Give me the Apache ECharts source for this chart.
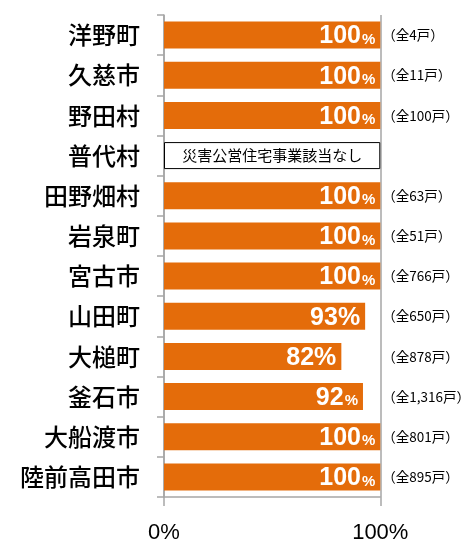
<!DOCTYPE html>
<html>
<head>
  <meta charset="utf-8">
  <title>災害公営住宅 整備率</title>
  <script src="https://cdn.jsdelivr.net/npm/echarts@6/dist/echarts.min.js"></script>
  <style>
    html, body { margin: 0; padding: 0; background: #fff; }
  </style>
</head>
<body>
  <div id="chart" style="width: 473px; height: 544px;"></div>
  <script>
    // 市町村
    var towns = ['洋野町', '久慈市', '野田村', '普代村', '田野畑村', '岩泉町', '宮古市',
                 '山田町', '大槌町', '釜石市', '大船渡市', '陸前高田市'];
    // 整備率（%）、普代村は該当なし
    var rates = [100, 100, 100, null, 100, 100, 100, 93, 82, 92, 100, 100];
    // 計画戸数
    var units = ['4', '11', '100', '', '63', '51', '766', '650', '878', '1,316', '801', '895'];
    var noneText = '災害公営住宅事業該当なし';
    var xTicks = [0, 100];

    var font = '"Noto Sans CJK JP", sans-serif';
    var latin = 'Liberation Sans, Arial, sans-serif';
    var orange = '#E46C0A';

    var unitLabels = units.map(function (u) { return u ? '（全' + u + '戸）' : ''; });

    var barData = rates.map(function (r, i) {
      if (r === null) {
        // 該当なし：枠だけの帯
        return {
          value: xTicks[1],
          itemStyle: { color: '#fff', borderColor: '#000', borderWidth: 1 },
          label: {
            position: 'inside',
            formatter: noneText,
            color: '#000',
            fontSize: 15,
            fontWeight: 'normal',
            fontFamily: font
          }
        };
      }
      var big = (r === 93 || r === 82);
      return {
        value: r,
        label: { formatter: '{n|' + r + '}{' + (big ? 'b' : 'p') + '|%}' }
      };
    });

    var chart = echarts.init(document.getElementById('chart'));
    var option = {
      animation: false,
      grid: { left: 164, right: 92, top: 15, bottom: 43 },
      xAxis: {
        type: 'value',
        min: 0,
        max: 100,
        interval: 100,
        axisLine: { show: true, lineStyle: { color: '#A6A6A6', width: 1.5 } },
        axisTick: { show: true, length: 9, lineStyle: { color: '#A6A6A6', width: 1.5 } },
        splitLine: { show: true, lineStyle: { color: '#A6A6A6', width: 1.5 } },
        axisLabel: {
          margin: 25,
          fontSize: 22,
          color: '#000',
          fontFamily: latin,
          formatter: '{value}%'
        }
      },
      yAxis: [
        {
          type: 'category',
          inverse: true,
          data: towns,
          axisLine: { show: true, lineStyle: { color: '#A6A6A6', width: 1.5 } },
          axisTick: { show: true, length: 7, lineStyle: { color: '#A6A6A6', width: 1.5 } },
          axisLabel: {
            margin: 24,
            fontSize: 24,
            fontWeight: 500,
            color: '#000',
            fontFamily: font
          }
        },
        {
          type: 'category',
          inverse: true,
          position: 'right',
          data: unitLabels,
          axisLine: { show: false },
          axisTick: { show: false },
          axisLabel: {
            margin: 2,
            fontSize: 13.5,
            color: '#000',
            fontFamily: font
          }
        }
      ],
      series: [
        {
          type: 'bar',
          barWidth: 27,
          data: barData,
          itemStyle: { color: orange },
          label: {
            show: true,
            position: 'insideRight',
            distance: 5,
            color: '#fff',
            fontFamily: latin,
            fontWeight: 'bold',
            rich: {
              n: { fontSize: 25, fontWeight: 'bold', color: '#fff', fontFamily: latin, padding: [3, 0, 0, 0] },
              p: { fontSize: 15, fontWeight: 'bold', color: '#fff', fontFamily: latin, padding: [9, 0, 0, 1] },
              b: { fontSize: 25, fontWeight: 'bold', color: '#fff', fontFamily: latin, padding: [3, 0, 0, 0] }
            }
          }
        }
      ]
    };
    chart.setOption(option);
  </script>
</body>
</html>
